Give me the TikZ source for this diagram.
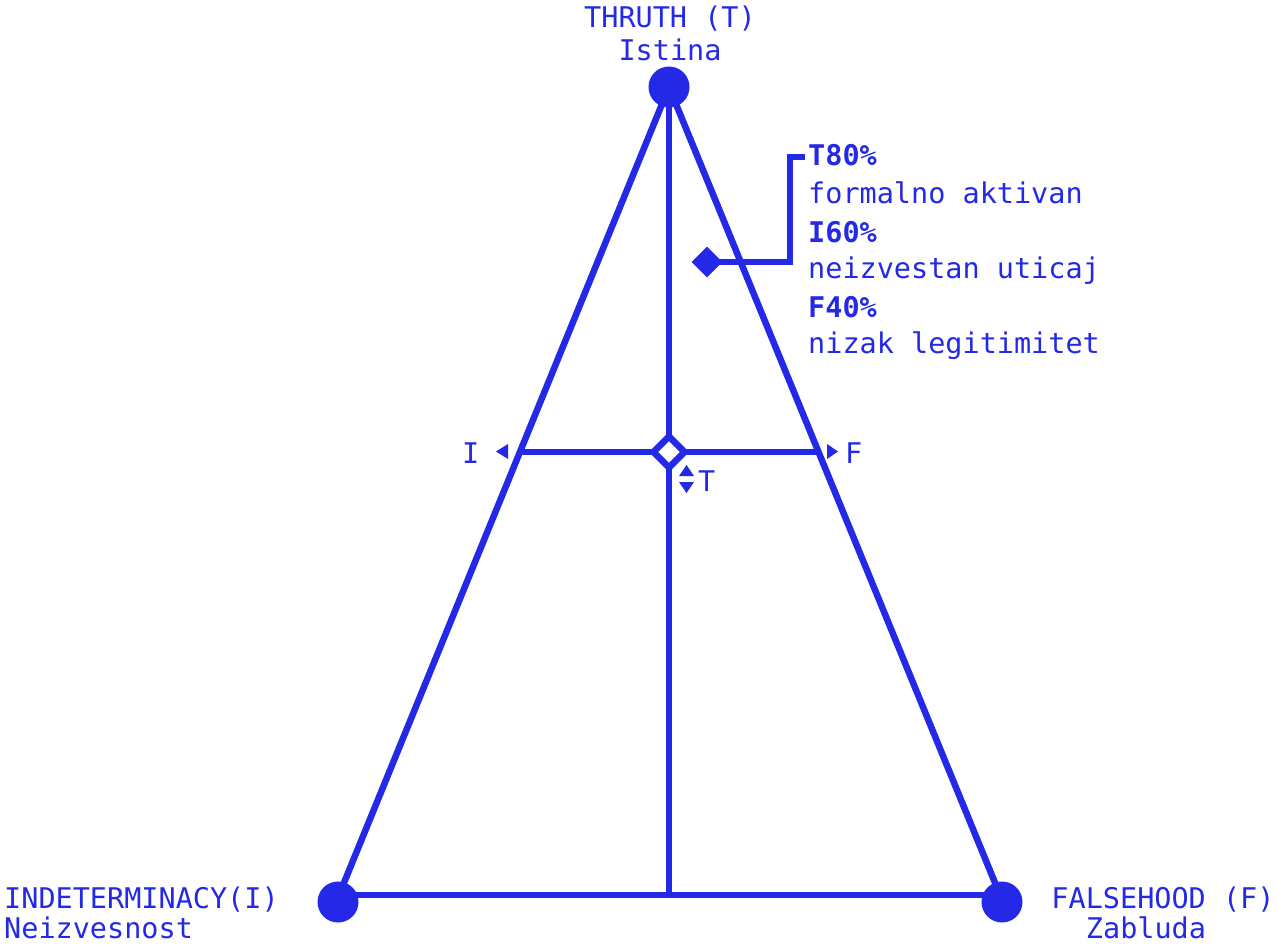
\documentclass[tikz,border=0pt]{standalone}
\usepackage{fontspec}
\usetikzlibrary{shapes.geometric}
\setmonofont{DejaVu Sans Mono}
\definecolor{ink}{RGB}{35,41,230}
\begin{document}
\begin{tikzpicture}[x=1pt,y=-1pt,
  line/.style={draw=ink,line width=6.5pt},
  vtx/.style={circle,fill=ink,minimum size=41pt,inner sep=0pt},
  lbl/.style={text=ink,inner sep=0pt,font=\fontsize{28.5}{34}\selectfont\ttfamily},
  blbl/.style={lbl,font=\fontsize{28.5}{34}\selectfont\ttfamily\bfseries},
  dia/.style={diamond,inner sep=0pt,minimum width=31pt,minimum height=31pt}]
\useasboundingbox (0,0) rectangle (1278,946);
% corner coordinates
\coordinate (top) at (669,87);
\coordinate (bl) at (339,895);
\coordinate (br) at (1000,895);
\coordinate (bc) at (669,895);
\coordinate (hl) at (521,452);
\coordinate (hr) at (817,452);
% lines
\draw[line] (top) -- (bl);
\draw[line] (top) -- (br);
\draw[line] (bl) -- (br);
\draw[line] (top) -- (bc);
\draw[line] (hl) -- (hr);
% vertices
\node[vtx] (T) at (669,87) {};
\node[vtx] (I) at (338,902) {};
\node[vtx] (F) at (1002,902) {};
% center open diamond
\coordinate (cd) at (669,452);
\draw[line,fill=white,line join=round] ([xshift=-15.5pt]cd) -- ([yshift=-15.5pt]cd) -- ([xshift=15.5pt]cd) -- ([yshift=15.5pt]cd) -- cycle;
% arrows
\fill[ink] (496,451.5) -- (508,444) -- (508,459) -- cycle;
\fill[ink] (838,451.5) -- (827,444) -- (827,459) -- cycle;
\fill[ink] (686.5,465) -- (694,476) -- (679,476) -- cycle;
\fill[ink] (686.5,493) -- (694,482) -- (679,482) -- cycle;
\node[lbl,anchor=base west] (il) at (462,463) {I};
\node[lbl,anchor=base west] (fl) at (845,463) {F};
\node[lbl,anchor=base west] (tl) at (698,491) {T};
% filled diamond and leader
\node[dia,fill=ink] (d) at (707,262) {};
\coordinate (k1) at (790,262);
\coordinate (k2) at (790,157);
\coordinate (k3) at (805,157);
\draw[line,line join=miter] (d.center) -- (k1) -- (k2) -- (k3);
% text block
\node[blbl,anchor=base west] (t1) at (808,165) {T80\%};
\node[lbl,anchor=base west] (t2) at (808,203) {formalno aktivan};
\node[blbl,anchor=base west] (t3) at (808,242) {I60\%};
\node[lbl,anchor=base west] (t4) at (808,278) {neizvestan uticaj};
\node[blbl,anchor=base west] (t5) at (808,317) {F40\%};
\node[lbl,anchor=base west] (t6) at (808,353) {nizak legitimitet};
% vertex labels
\node[lbl,anchor=base] (a1) at (670,27) {THRUTH (T)};
\node[lbl,anchor=base] (a2) at (670,60) {Istina};
\node[lbl,anchor=base west] (b1) at (4,908) {INDETERMINACY(I)};
\node[lbl,anchor=base west] (b2) at (4,938) {Neizvesnost};
\node[lbl,anchor=base] (c1) at (1163,908) {FALSEHOOD (F)};
\node[lbl,anchor=base] (c2) at (1146,938) {Zabluda};
\end{tikzpicture}
\end{document}
